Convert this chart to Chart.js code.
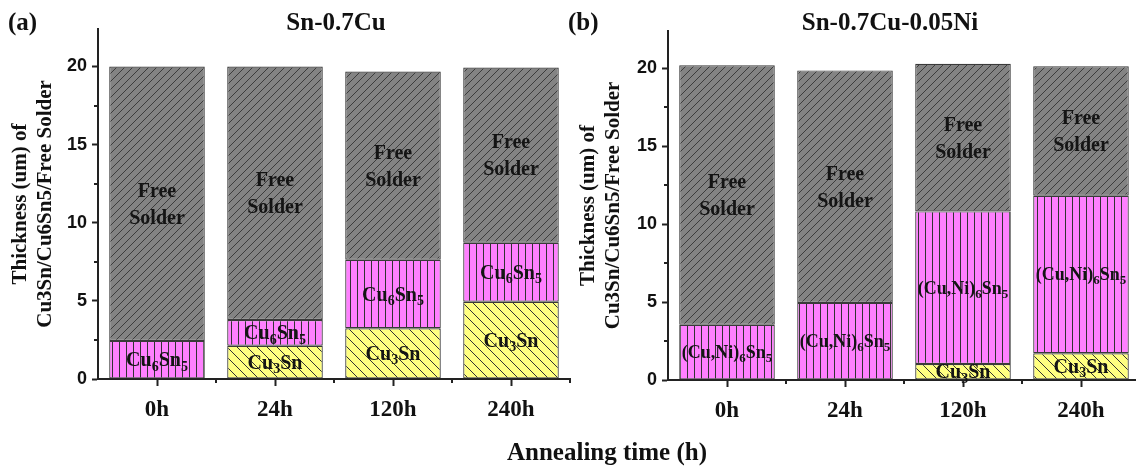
<!DOCTYPE html>
<html>
<head>
<meta charset="utf-8">
<script src="https://cdn.jsdelivr.net/npm/chart.js@4.4.0/dist/chart.umd.min.js"></script>
<style>
html, body { margin: 0; padding: 0; background: #fff; }
body { width: 1136px; height: 468px; position: relative; overflow: hidden; font-family: "Liberation Serif", "Times New Roman", serif; }
.box { position: absolute; top: 0; height: 468px; }
#boxA { left: 0; width: 580px; }
#boxB { left: 568px; width: 572px; }
.txt { position: absolute; font-weight: bold; color: #111; white-space: nowrap; line-height: 1; transform: translateY(-50%); }
.mid { transform: translate(-50%, -50%); }
</style>
</head>
<body>
<div class="box" id="boxA"><canvas id="chartA"></canvas></div>
<div class="box" id="boxB"><canvas id="chartB"></canvas></div>

<div class="txt" style="left:8px;top:21px;font-size:25px">(a)</div>
<div class="txt mid" style="left:336px;top:21px;font-size:25px">Sn-0.7Cu</div>
<div class="txt" style="left:568px;top:21px;font-size:25px">(b)</div>
<div class="txt mid" style="left:890px;top:21px;font-size:25px">Sn-0.7Cu-0.05Ni</div>
<div class="txt mid" style="left:607px;top:451px;font-size:25px">Annealing time (h)</div>

<script>
// annealing times
const times = ['0h', '24h', '120h', '240h'];

// (a) Sn-0.7Cu, layer thickness in um
const cu3snA = [null, 2.13, 3.25, 4.94];
const cu6sn5A = [2.44, 1.65, 4.38, 3.78];
const freeA = [17.56, 16.22, 12.05, 11.22];

// (b) Sn-0.7Cu-0.05Ni
const cu3snB = [null, null, 1.03, 1.72];
const cuni6sn5B = [3.54, 4.95, 9.79, 10.11];
const freeB = [16.66, 14.92, 9.48, 8.30];

// in-bar texts, "_x" = subscript
const textCu3Sn = 'Cu_3Sn';
const textCu6Sn5 = 'Cu_6Sn_5';
const textCuNi = '(Cu,Ni)_6Sn_5';
const textFree = 'Free\nSolder';

const yTitle = ['Thickness (um) of', 'Cu3Sn/Cu6Sn5/Free Solder'];

function hatch(bg, kind, size, ink) {
  const c = document.createElement('canvas');
  c.width = size; c.height = size;
  const g = c.getContext('2d');
  g.fillStyle = bg;
  g.fillRect(0, 0, size, size);
  g.strokeStyle = ink;
  g.lineWidth = 1;
  g.beginPath();
  if (kind === '/') {
    g.moveTo(-1, size + 1); g.lineTo(size + 1, -1);
    g.moveTo(-2, 2); g.lineTo(2, -2);
    g.moveTo(size - 2, size + 2); g.lineTo(size + 2, size - 2);
  } else if (kind === '\\') {
    g.moveTo(-1, -1); g.lineTo(size + 1, size + 1);
    g.moveTo(size - 2, -2); g.lineTo(size + 2, 2);
    g.moveTo(-2, size - 2); g.lineTo(2, size + 2);
  } else {
    g.moveTo(0.5, 0); g.lineTo(0.5, size);
  }
  g.stroke();
  return g.createPattern(c, 'repeat');
}

const grayFill = hatch('#838383', '/', 8, '#3c3c3c');
const pinkFill = hatch('#ff80ff', '|', 7, '#333');
const yellowFill = hatch('#ffff80', '\\', 10, '#333');

function drawRich(ctx, text, cx, cy, size) {
  const lines = text.split('\n');
  const lineH = size * 1.35;
  const subSize = Math.round(size * 0.7);
  lines.forEach((line, li) => {
    const parts = [];
    for (let i = 0; i < line.length; i++) {
      if (line[i] === '_') { parts.push({ t: line[i + 1], sub: true }); i++; }
      else if (parts.length && !parts[parts.length - 1].sub) parts[parts.length - 1].t += line[i];
      else parts.push({ t: line[i], sub: false });
    }
    let w = 0;
    parts.forEach(p => {
      ctx.font = 'bold ' + (p.sub ? subSize : size) + 'px "Liberation Serif"';
      p.w = ctx.measureText(p.t).width;
      w += p.w;
    });
    const base = cy - (lines.length - 1) * lineH / 2 + li * lineH + size * 0.33;
    let x = cx - w / 2;
    parts.forEach(p => {
      ctx.font = 'bold ' + (p.sub ? subSize : size) + 'px "Liberation Serif"';
      ctx.fillText(p.t, x, p.sub ? base + size * 0.22 : base);
      x += p.w;
    });
  });
}

const segmentText = {
  id: 'segmentText',
  afterDatasetsDraw(chart) {
    const ctx = chart.ctx;
    ctx.save();
    ctx.fillStyle = '#141414';
    ctx.textAlign = 'left';
    ctx.textBaseline = 'alphabetic';
    chart.data.datasets.forEach((ds, di) => {
      chart.getDatasetMeta(di).data.forEach((bar, i) => {
        if (!ds.data[i]) return;
        drawRich(ctx, ds.segText, bar.x, (bar.y + bar.base) / 2, ds.segSize);
      });
    });
    ctx.restore();
  }
};

const minorTicks = {
  id: 'minorTicks',
  afterDraw(chart) {
    const { ctx, scales: { x, y } } = chart;
    ctx.save();
    ctx.strokeStyle = '#222';
    ctx.lineWidth = 2;
    ctx.beginPath();
    for (let v = 2.5; v < 20; v += 5) {
      const py = Math.round(y.getPixelForValue(v));
      ctx.moveTo(y.right - 4, py); ctx.lineTo(y.right, py);
    }
    const step = x.getPixelForValue(1) - x.getPixelForValue(0);
    for (let i = 0; i < times.length; i++) {
      const px = Math.round(x.getPixelForValue(i) + step / 2);
      ctx.moveTo(px, x.top); ctx.lineTo(px, x.top + 4);
    }
    ctx.stroke();
    ctx.restore();
  }
};

function barSet(label, data, fill, text, size) {
  return {
    label: label,
    data: data,
    backgroundColor: fill,
    borderColor: '#3a3a3a',
    borderWidth: 1.2,
    borderSkipped: false,
    barPercentage: 0.81,
    categoryPercentage: 1,
    segText: text,
    segSize: size
  };
}

function makeChart(id, datasets, pad, yWidth, xHeight) {
  return new Chart(document.getElementById(id), {
    type: 'bar',
    data: { labels: times, datasets: datasets },
    options: {
      responsive: true,
      maintainAspectRatio: false,
      animation: false,
      layout: { padding: pad },
      plugins: { legend: { display: false }, tooltip: { enabled: false } },
      scales: {
        x: {
          stacked: true,
          offset: true,
          grid: { offset: false, drawOnChartArea: false, tickLength: 7, tickWidth: 2, tickColor: '#222' },
          border: { color: '#222', width: 2 },
          ticks: { color: '#111', padding: 10, maxRotation: 0, font: { family: 'Liberation Serif', size: 23, weight: 'bold' } },
          afterFit: s => { s.height = xHeight; }
        },
        y: {
          stacked: true,
          min: 0,
          max: 22.4,
          grid: { drawOnChartArea: false, tickLength: 6, tickWidth: 2, tickColor: '#222' },
          border: { color: '#222', width: 2 },
          ticks: { stepSize: 5, color: '#111', padding: 5, font: { family: 'Liberation Sans', size: 18, weight: 'bold' } },
          afterBuildTicks: s => { s.ticks = s.ticks.filter(t => t.value % 5 === 0); },
          title: {
            display: true,
            text: yTitle,
            color: '#111',
            padding: { top: 8, bottom: 0 },
            font: { family: 'Liberation Serif', size: 21, weight: 'bold', lineHeight: 1.2 }
          },
          afterFit: s => { s.width = yWidth; }
        }
      }
    },
    plugins: [segmentText, minorTicks]
  });
}

makeChart('chartA', [
  barSet('Cu3Sn', cu3snA, yellowFill, textCu3Sn, 20),
  barSet('Cu6Sn5', cu6sn5A, pinkFill, textCu6Sn5, 20),
  barSet('Free Solder', freeA, grayFill, textFree, 20)
], { top: 29, right: 10, left: 0, bottom: 0 }, 98, 89);

makeChart('chartB', [
  barSet('Cu3Sn', cu3snB, yellowFill, textCu3Sn, 20),
  barSet('(Cu,Ni)6Sn5', cuni6sn5B, pinkFill, textCuNi, 18),
  barSet('Free Solder', freeB, grayFill, textFree, 20)
], { top: 31, right: 0, left: 0, bottom: 0 }, 100, 88);
</script>
</body>
</html>
